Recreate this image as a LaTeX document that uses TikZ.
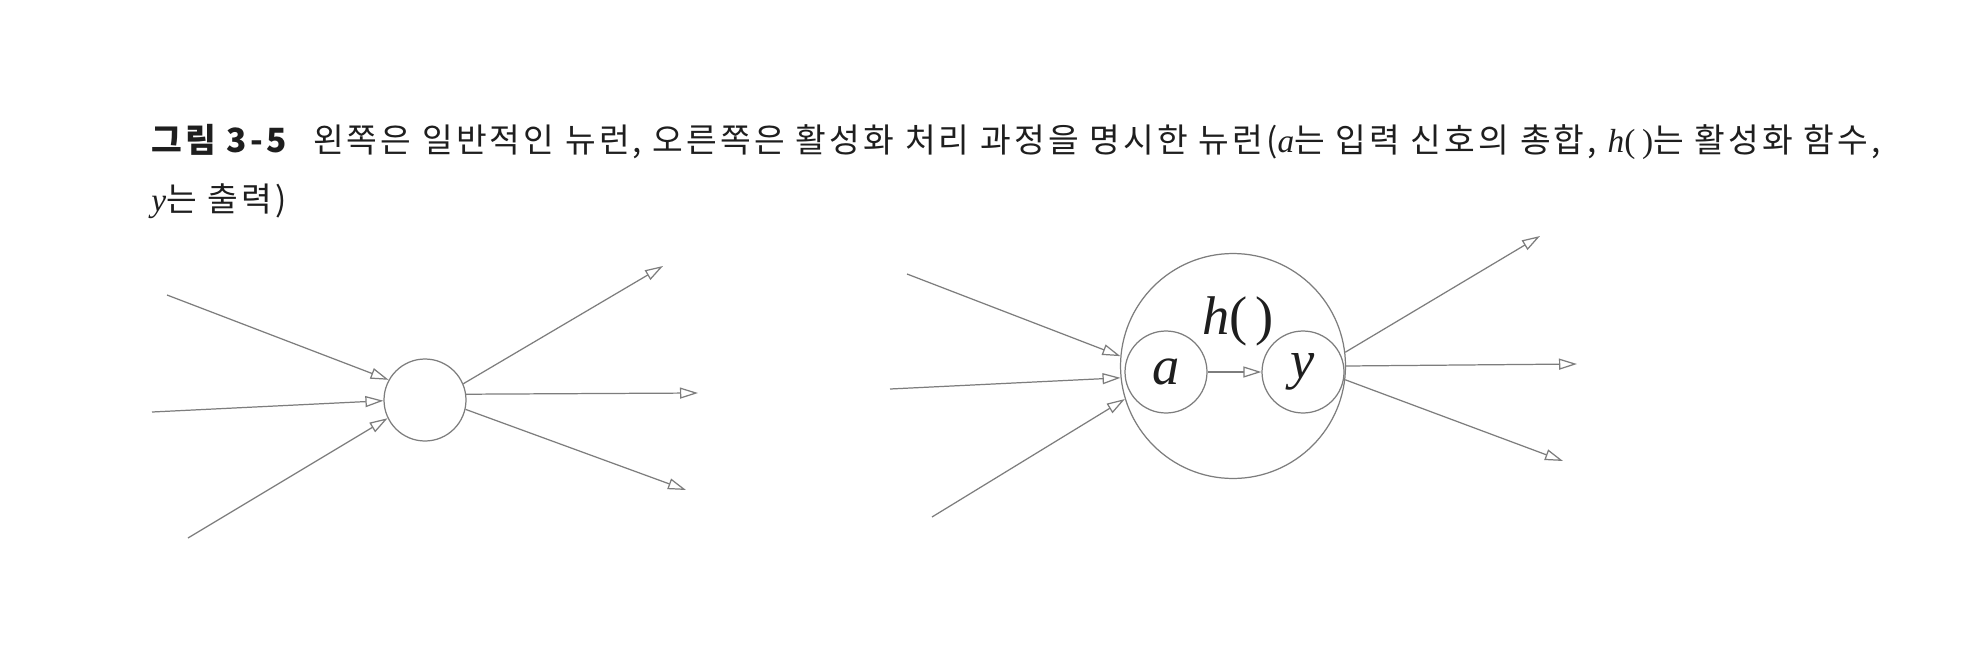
\documentclass[tikz,border=0pt]{standalone}
\usepackage{fontspec}
\setmainfont[LetterSpace=9.5]{Noto Sans CJK KR}
\newfontfamily\tms{Liberation Serif}
\usetikzlibrary{arrows.meta,positioning}
\definecolor{wire}{RGB}{125,125,125}
\definecolor{ink}{RGB}{30,30,30}
\tikzset{unit/.style={circle,draw=wire,line width=0.7pt,inner sep=0pt,minimum size=1.64cm},cell/.style={unit,minimum size=4.5cm},sig/.style={-{Triangle[open,length=3.6mm,width=2.2mm]},draw=wire,line width=0.7pt},var/.style={font=\tms\itshape\fontsize{31}{33}\selectfont,text=ink},figcap/.style={anchor=base west,inner sep=0pt,font=\fontsize{19}{22}\selectfont,text=ink}}

\begin{document}
\begin{tikzpicture}[x=0.02cm,y=-0.02cm]
\fill[white] (0,0) rectangle (1970,666);
\useasboundingbox (0,0) rectangle (1970,666);
\node[figcap] (cap1) at (151,152) {\textbf{그림 3-5}\hspace{0.7em}왼쪽은 일반적인 뉴런, 오른쪽은 활성화 처리 과정을 명시한 뉴런({\tms\itshape a}는 입력 신호의 총합, {\tms\itshape h}{\tms(\hspace{0.2em})}는 활성화 함수,};
\node[figcap] (cap2) at (151,211) {{\tms\itshape y}는 출력)};
\node[unit] (plain) at (425,400) {};
\coordinate (pin1) at (167,295);\coordinate (pin2) at (152,412);\coordinate (pin3) at (188,538);
\coordinate (pout1) at (663,266);\coordinate (pout2) at (698,393);\coordinate (pout3) at (686,490);
\draw[sig] (pin1)--(plain.151);\draw[sig] (pin2)--(plain.181);\draw[sig] (pin3)--(plain.206);
\draw[sig] (plain.23)--(pout1);\draw[sig] (plain.8)--(pout2);\draw[sig] (plain.-13)--(pout3);
\node[cell] (body) at (1233,366) {};
\node[unit,var] (sum) at (1166,372) {a};
\node[unit,var] (act) at (1303,372) {y};
\node[var] (fn) at (1238,321) {h{\upshape(\hspace{0.15em})}};
\draw[sig] (sum)--(act);
\coordinate (qin1) at (907,274);\coordinate (qin2) at (890,389);\coordinate (qin3) at (932,517);
\coordinate (qout1) at (1540,236);\coordinate (qout2) at (1577,364);\coordinate (qout3) at (1563,461);
\draw[sig] (qin1)--(body.175);\draw[sig] (qin2)--(body.186);\draw[sig] (qin3)--(body.197);
\draw[sig] (body.7)--(qout1);\draw[sig] (body.0)--(qout2);\draw[sig] (body.-7)--(qout3);
\end{tikzpicture}
\end{document}
